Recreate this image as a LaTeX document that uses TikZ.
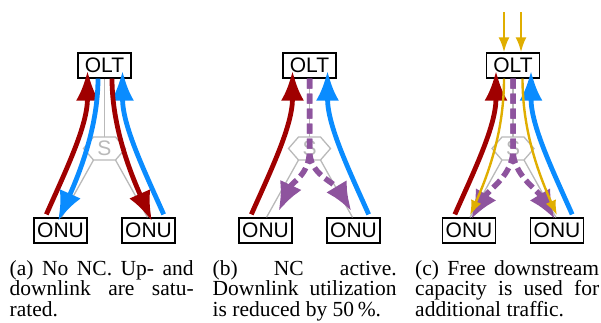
\documentclass[tikz,border=0pt]{standalone}
\usepackage{fontspec}
\setmainfont{Liberation Serif}
\setsansfont{Liberation Sans}
\usetikzlibrary{arrows.meta}

\definecolor{upred}{RGB}{160,0,0}
\definecolor{upblue}{RGB}{10,140,255}
\definecolor{ncpurple}{RGB}{142,84,158}
\definecolor{extragold}{RGB}{224,174,0}
\definecolor{fibergray}{RGB}{185,185,185}

\tikzset{
  box/.style={draw, line width=1.3pt, fill=white, minimum width=53pt,
    minimum height=25pt, inner sep=0pt, font=\sffamily\fontsize{21}{21}\selectfont},
  fiber/.style={fibergray, line width=1.3pt},
  flow/.style={line width=4.8pt, -{Latex[length=30pt,width=23pt]}},
  ncflow/.style={ncpurple, line width=5.5pt, dash pattern=on 10pt off 5pt,
    -{Latex[length=29pt,width=24pt]}},
  extra/.style={extragold, line width=2.4pt, -{Latex[length=15pt,width=11pt]}},
  capt/.style={anchor=north west, text width=184pt, align=justify, inner sep=0pt,
    font=\fontsize{21.5}{20.5}\selectfont}
}

%%% the PON: OLT, splitter and two ONUs
\newcommand{\ponnet}{%
  \node[box] (olt) at (0,65.5) {OLT};
  \node[box] (onul) at (-44,230.5) {ONU};
  \node[box] (onur) at (44,230.5) {ONU};
  \coordinate (hxt) at (0,137);
  \coordinate (hxbl) at (-11,160);
  \coordinate (hxbr) at (11,160);
  \draw[fiber] (-11,137) -- (11,137) -- (21,148.5) -- (hxbr) -- (hxbl) -- (-21,148.5) -- cycle;
  \node[fibergray, font=\sffamily\fontsize{21}{21}\selectfont] (spl) at (0,148.5) {S};
  \draw[fiber] (olt) -- (hxt);
  \draw[fiber] (hxbl) -- ([xshift=1pt]onul.north);
  \draw[fiber] (hxbr) -- ([xshift=-1pt]onur.north);
  % ends of the upstream arrows
  \coordinate (srcl) at ([xshift=13pt,yshift=3pt]onul.north west);
  \coordinate (srcr) at ([xshift=-12pt,yshift=3pt]onur.north east);
  \coordinate (upl) at ([xshift=-17pt,yshift=8pt]olt.south);
  \coordinate (upr) at ([xshift=18pt,yshift=8pt]olt.south);
  \coordinate (split) at (0,150);
}

\begin{document}
\begin{tikzpicture}[x=1pt,y=-1pt]
\useasboundingbox (0,0) rectangle (601,322);

%%% (a) no NC
\begin{scope}[shift={(104.5,0)},name prefix=a-]
\ponnet
\draw[flow,upred] (srcl) .. controls +(20,-45) and +(0,55) .. (upl);
\draw[flow,upblue] (srcr) .. controls +(-20,-45) and +(0,55) .. (upr);
\draw[flow,upblue] ([xshift=-6.5pt]olt.south) .. controls +(0,50) and +(20,-45) .. ([xshift=-2.5pt,yshift=-4pt]onul.north);
\draw[flow,upred] ([xshift=7.5pt]olt.south) .. controls +(0,50) and +(-20,-45) .. ([xshift=3.5pt,yshift=-4pt]onur.north);
\end{scope}

%%% (b) NC active
\begin{scope}[shift={(309.5,0)},name prefix=b-]
\ponnet
\draw[flow,upred] (srcl) .. controls +(20,-45) and +(0,55) .. (upl);
\draw[flow,upblue] (srcr) .. controls +(-20,-45) and +(0,55) .. (upr);
\draw[ncflow] (olt.south) -- (split) .. controls +(0,25) and +(14,-30) .. ([xshift=13pt,yshift=6pt]onul.north);
\draw[ncflow] (olt.south) -- (split) .. controls +(0,25) and +(-18,-30) .. ([xshift=-2pt,yshift=6pt]onur.north);
\end{scope}

%%% (c) extra downstream traffic
\begin{scope}[shift={(513,0)},name prefix=c-]
\ponnet
\coordinate (inl) at (-9,12);
\coordinate (inr) at (8,12);
\draw[extra] (inl) -- ([xshift=-9pt]olt.north);
\draw[extra] (inr) -- ([xshift=8pt]olt.north);
\draw[flow,upred] (srcl) .. controls +(20,-45) and +(0,55) .. (upl);
\draw[flow,upblue] (srcr) .. controls +(-20,-45) and +(0,55) .. (upr);
\draw[ncflow] (olt.south) -- (split) .. controls +(0,25) and +(18,-30) .. ([xshift=2pt,yshift=-2pt]onul.north);
\draw[ncflow] (olt.south) -- (split) .. controls +(0,25) and +(-18,-30) .. ([xshift=-2pt,yshift=-2pt]onur.north);
\draw[extra] ([xshift=-9pt]olt.south) .. controls +(0,50) and +(20,-45) .. ([xshift=1pt,yshift=2pt]onul.north);
\draw[extra] ([xshift=9.5pt]olt.south) .. controls +(0,50) and +(-20,-45) .. ([xshift=0pt,yshift=2pt]onur.north);
\end{scope}

%%% captions
\node[capt] (capa) at (9.5,260) {(a) No NC. Up- and\linebreak downlink are satu-\linebreak rated.};
\node[capt] (capb) at (212.5,260) {(b) NC active.\linebreak Downlink utilization\linebreak is reduced by 50\,\%.};
\node[capt] (capc) at (415,260) {(c) Free downstream\linebreak capacity is used for\linebreak additional traffic.};
\end{tikzpicture}
\end{document}
